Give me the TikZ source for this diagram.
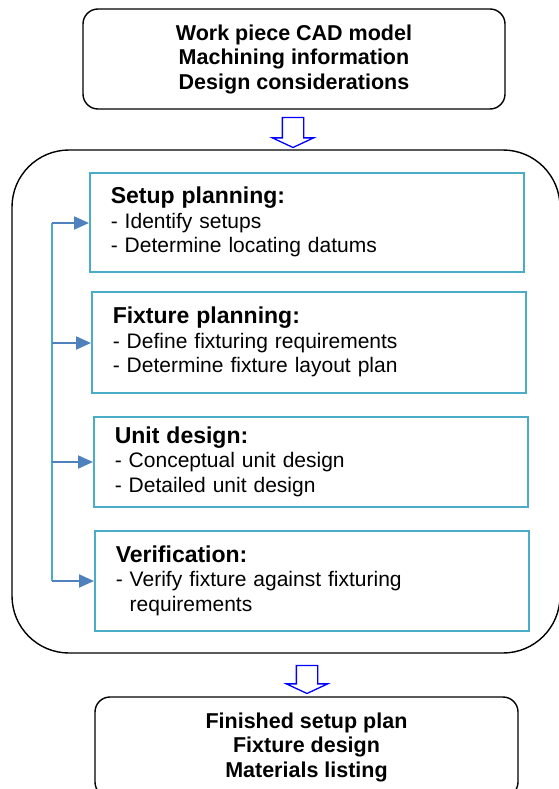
\documentclass[tikz,border=0pt]{standalone}
\usepackage{fontspec}
\setmainfont{Liberation Sans}
\usetikzlibrary{shapes.arrows,arrows.meta}
\definecolor{stageteal}{RGB}{75,172,198}
\definecolor{feedblue}{RGB}{79,129,189}
\newcommand{\stagehead}[1]{{\bfseries\fontsize{23}{24.5}\selectfont #1}}
\tikzset{
  endbox/.style={draw=black, line width=1.4pt, rounded corners=15pt, align=center,
    minimum height=100pt, font=\bfseries\fontsize{21.5}{24.5}\selectfont},
  stagebox/.style={draw=stageteal, line width=1.5pt, anchor=north west, align=left,
    text width=392pt, inner xsep=21pt, font=\fontsize{21}{24.5}\selectfont},
  bigarrow/.style={draw=blue, fill=white, line width=1.3pt, single arrow, rotate=-90,
    minimum width=40pt, minimum height=30pt, single arrow head extend=10pt,
    single arrow tip angle=130, inner xsep=0pt, inner ysep=10pt},
  spine/.style={draw=stageteal, line width=1.5pt},
  feed/.style={draw=feedblue, line width=2pt, -{Triangle[length=15pt,width=13pt]}}
}
\begin{document}
\begin{tikzpicture}[x=1pt,y=-1pt]
\useasboundingbox (0,0) rectangle (558,789);
% input and output
\node[endbox, minimum width=422pt] (input) at (294,59)
  {Work piece CAD model\\Machining information\\Design considerations};
\node[endbox, minimum width=423pt] (output) at (306.5,747)
  {Finished setup plan\\Fixture design\\Materials listing};
% frame round the four stages
\node[draw=black, line width=1.4pt, rounded corners=57pt, minimum width=548pt,
  minimum height=503pt] (frame) at (286,401.5) {};
\node[bigarrow] (arrowin) at (293,130) {};
\node[bigarrow, minimum height=28pt] (arrowout) at (307,677) {};
% stages
\node[stagebox, minimum height=99pt] (setup) at (89,172)
  {\stagehead{Setup planning:}\\- Identify setups\\- Determine locating datums};
\node[stagebox, minimum height=101pt] (fixture) at (91,291)
  {\stagehead{Fixture planning:}\\- Define fixturing requirements\\- Determine fixture layout plan};
\node[stagebox, minimum height=90pt] (unit) at (93,416)
  {\stagehead{Unit design:}\\- Conceptual unit design\\- Detailed unit design};
\node[stagebox, minimum height=100pt] (verify) at (94,530)
  {\stagehead{Verification:}\\- Verify fixture against fixturing\\\phantom{- }requirements};
% feedback line
\coordinate (s1) at (52,223);
\coordinate (s2) at (52,343);
\coordinate (s3) at (52,462);
\coordinate (s4) at (52,581);
\draw[spine] (s1) -- (s4);
\draw[feed] (s1) -- (s1 -| setup.west);
\draw[feed] (s2) -- (s2 -| fixture.west);
\draw[feed] (s3) -- (s3 -| unit.west);
\draw[feed] (s4) -- (s4 -| verify.west);
\end{tikzpicture}
\end{document}
